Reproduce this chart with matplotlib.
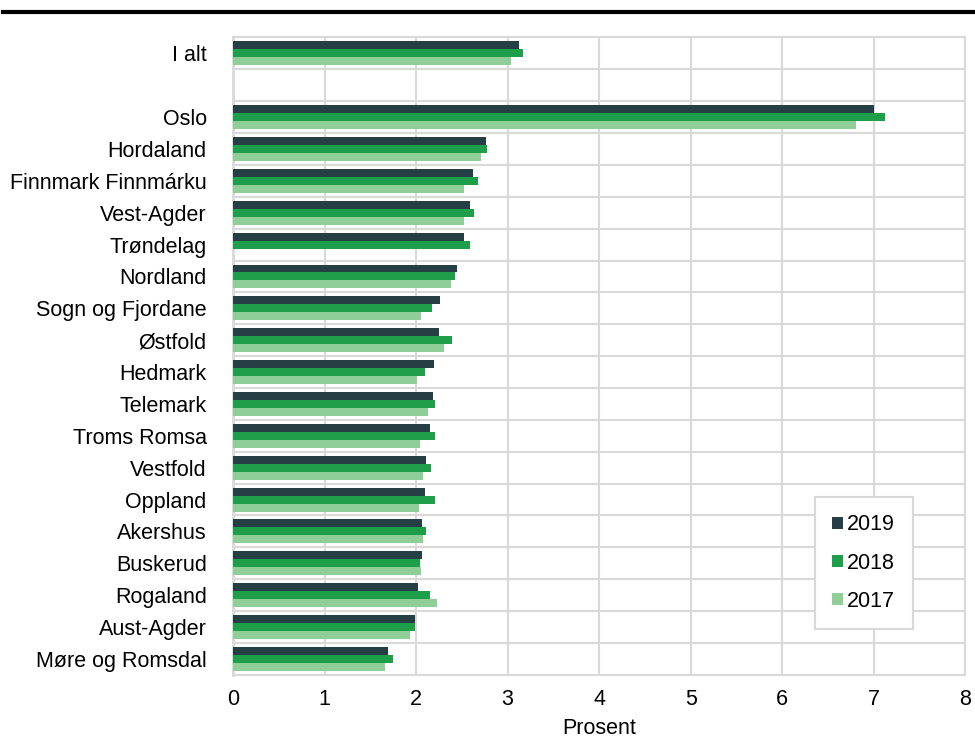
import numpy as np
import matplotlib.pyplot as plt
from matplotlib.lines import Line2D

categories = ['I alt', '', 'Oslo', 'Hordaland', 'Finnmark Finnmárku', 'Vest-Agder',
              'Trøndelag', 'Nordland', 'Sogn og Fjordane', 'Østfold', 'Hedmark',
              'Telemark', 'Troms Romsa', 'Vestfold', 'Oppland', 'Akershus',
              'Buskerud', 'Rogaland', 'Aust-Agder', 'Møre og Romsdal']

v2019 = [3.12, 0, 7.00, 2.76, 2.62, 2.59, 2.52, 2.45, 2.26, 2.25, 2.20,
         2.18, 2.15, 2.11, 2.10, 2.07, 2.06, 2.02, 1.99, 1.69]
v2018 = [3.17, 0, 7.12, 2.78, 2.68, 2.63, 2.59, 2.43, 2.17, 2.39, 2.10,
         2.21, 2.21, 2.16, 2.21, 2.11, 2.04, 2.15, 1.99, 1.75]
v2017 = [3.04, 0, 6.81, 2.71, 2.52, 2.52, 0, 2.38, 2.05, 2.31, 2.01,
         2.13, 2.04, 2.08, 2.03, 2.08, 2.05, 2.23, 1.93, 1.66]

years = ['2019', '2018', '2017']
colors = ['#263f44', '#1f9e4a', '#8fcf97']

plt.rcParams['font.family'] = ['Liberation Sans', 'DejaVu Sans']
fs = 15.5

fig = plt.figure(figsize=(9.75, 7.49), dpi=100)
ax = fig.add_axes([0.239, 0.099, 0.751, 0.851])

y = np.arange(len(categories))
h = 0.25
for i, (vals, col, yr) in enumerate(zip([v2019, v2018, v2017], colors, years)):
    ax.barh(y + (i - 1) * h, vals, height=h, color=col, label=yr, zorder=3)

ax.set_ylim(len(categories) - 0.5, -0.5)
ax.set_xlim(0, 8)
ax.set_yticks(y)
ax.set_yticklabels(categories, fontsize=fs)
ax.set_xticks(range(0, 9))
ax.tick_params(axis='x', labelsize=fs, length=0, pad=10)
ax.tick_params(axis='y', length=0, pad=19)
ax.set_yticks(np.arange(-0.5, len(categories), 1), minor=True)
ax.tick_params(axis='y', which='minor', length=0)

ax.grid(axis='x', color='#d9d9d9', lw=1.5, zorder=0)
ax.grid(axis='y', which='minor', color='#d9d9d9', lw=1.5, zorder=0)
ax.grid(axis='y', which='major', visible=False)
for s in ax.spines.values():
    s.set_color('#d9d9d9')
    s.set_linewidth(1.5)
ax.spines['left'].set_linewidth(2)

ax.set_xlabel('Prosent', fontsize=fs, labelpad=6)

leg = ax.legend(loc='lower right', bbox_to_anchor=(0.928, 0.072), fontsize=fs,
                handlelength=0.5, handleheight=0.5, handletextpad=0.2,
                labelspacing=0.8, borderpad=0.8, borderaxespad=0,
                fancybox=False, edgecolor='#d9d9d9', framealpha=1)
leg.get_frame().set_linewidth(1.5)

fig.add_artist(Line2D([0.003, 1.0], [0.984, 0.984], color='black', lw=3,
                      transform=fig.transFigure))

fig.savefig('out.png', dpi=100)
